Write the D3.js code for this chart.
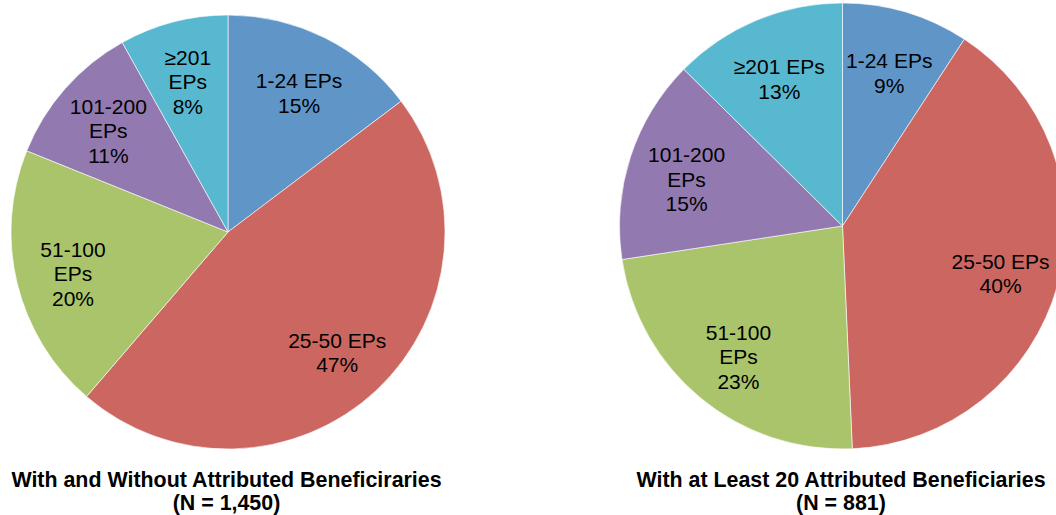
<!DOCTYPE html>
<html>
<head>
<meta charset="utf-8">
<script src="https://cdn.jsdelivr.net/npm/d3@7"></script>
<style>
  html, body { margin: 0; padding: 0; background: #fff; }
  svg { display: block; }
</style>
</head>
<body>
<svg id="chart" width="1056" height="515"></svg>
<script>
// ---- data ----
const categories = ["1-24 EPs", "25-50 EPs", "51-100 EPs", "101-200 EPs", "≥201 EPs"];
const leftValues = [14.7, 46.6, 19.8, 10.8, 8.1];
const leftPctLabels = ["15%", "47%", "20%", "11%", "8%"];
const leftWrap = [false, false, true, true, true];
const leftTitle = ["With and Without Attributed Beneficiraries", "(N = 1,450)"];

const rightValues = [9.2, 40.1, 23.3, 14.8, 12.6];
const rightPctLabels = ["9%", "40%", "23%", "15%", "13%"];
const rightWrap = [false, false, true, true, false];
const rightTitle = ["With at Least 20 Attributed Beneficiaries", "(N = 881)"];

const colors = ["#6096C7", "#CC6660", "#AAC46C", "#9279B0", "#58B8CF"];

// ---- drawing ----
const svg = d3.select("#chart");
const font = "'Liberation Sans', Arial, sans-serif";
const color = d3.scaleOrdinal().domain(categories).range(colors);

function drawPie(cx, cy, r, values, pctLabels, wrap, title) {
  const data = categories.map((c, i) => ({ cat: c, value: values[i], pct: pctLabels[i], wrap: wrap[i] }));
  const pie = d3.pie().sort(null).value(d => d.value).startAngle(0).endAngle(2 * Math.PI);
  const arcs = pie(data);
  const arc = d3.arc().innerRadius(0).outerRadius(r);
  const labelArc = d3.arc().innerRadius(r * 0.735).outerRadius(r * 0.735);

  const g = svg.append("g").attr("transform", `translate(${cx},${cy})`);
  g.selectAll("path.slice").data(arcs).join("path")
    .attr("class", "slice")
    .attr("d", arc)
    .attr("fill", d => color(d.data.cat))
    .attr("stroke", "#ffffff")
    .attr("stroke-width", 0.6);

  const lh = 24.5;
  g.selectAll("text.lbl").data(arcs).join("text")
    .attr("class", "lbl")
    .attr("font-family", font)
    .attr("font-size", 21)
    .attr("fill", "#000")
    .attr("text-anchor", "middle")
    .each(function(d) {
      const [x, y] = labelArc.centroid(d);
      let lines;
      if (d.data.wrap) {
        const parts = d.data.cat.split(" ");
        lines = [parts[0], parts.slice(1).join(" "), d.data.pct];
      } else {
        lines = [d.data.cat, d.data.pct];
      }
      const n = lines.length;
      const t = d3.select(this);
      lines.forEach((ln, i) => {
        t.append("tspan")
          .attr("x", x)
          .attr("y", y + 4 + (i - (n - 1) / 2) * lh + 7.5)
          .text(ln);
      });
    });

  const tt = svg.append("text")
    .attr("font-family", font)
    .attr("font-size", 21.4)
    .attr("font-weight", "bold")
    .attr("fill", "#000")
    .attr("text-anchor", "middle");
  title.forEach((ln, i) => {
    tt.append("tspan").attr("x", cx - 1.5).attr("y", 487 + i * 23).text(ln);
  });
}

drawPie(228, 232, 217, leftValues, leftPctLabels, leftWrap, leftTitle);
drawPie(842.5, 226, 223, rightValues, rightPctLabels, rightWrap, rightTitle);
</script>
</body>
</html>
